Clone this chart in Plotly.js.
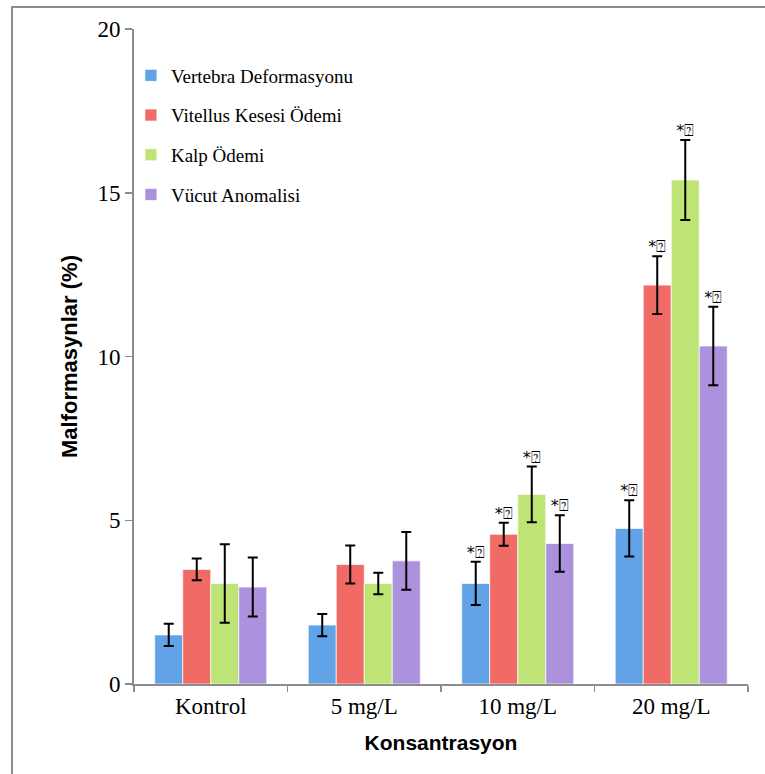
<!DOCTYPE html>
<html>
<head>
<meta charset="utf-8">
<script src="https://cdn.plot.ly/plotly-3.0.1.min.js"></script>
<style>
  html, body { margin: 0; padding: 0; background: #fff; }
  #frame { position: absolute; left: 11px; top: 6px; width: 800px; height: 800px;
           border-left: 2px solid #8c8c8c; border-top: 2px solid #8c8c8c; pointer-events: none; z-index: 2; }
  #chart { position: absolute; left: 0; top: 0; width: 765px; height: 774px; }
</style>
</head>
<body>
<div id="chart"></div>
<div id="frame"></div>
<script>
// ---- data ----
const categories = ['Kontrol', '5 mg/L', '10 mg/L', '20 mg/L'];
const seriesNames = ['Vertebra Deformasyonu', 'Vitellus Kesesi Ödemi', 'Kalp Ödemi', 'Vücut Anomalisi'];

const vertebra      = [1.50, 1.80, 3.07, 4.75];
const vertebraErr   = [0.34, 0.34, 0.66, 0.86];
const vitellus      = [3.50, 3.65, 4.57, 12.18];
const vitellusErr   = [0.33, 0.58, 0.35, 0.88];
const kalp          = [3.07, 3.07, 5.79, 15.39];
const kalpErr       = [1.20, 0.33, 0.85, 1.22];
const vucut         = [2.96, 3.76, 4.29, 10.32];
const vucutErr      = [0.90, 0.88, 0.86, 1.20];

const sigLabels = ['', '', '*⍰', '*⍰'];

const yTicks = [0, 5, 10, 15, 20];

// ---- styles ----
const colors = ['#62a2e6', '#f06a66', '#bde474', '#ac92dc'];
const values = [vertebra, vitellus, kalp, vucut];
const errors = [vertebraErr, vitellusErr, kalpErr, vucutErr];

const traces = [];
values.forEach((vals, i) => {
  traces.push({
    type: 'bar',
    name: seriesNames[i],
    x: categories,
    y: vals,
    offsetgroup: 'g' + i,
    legendgroup: 'g' + i,
    marker: { color: colors[i], line: { color: 'rgba(255,255,255,0.7)', width: 1 } },
    error_y: { type: 'data', array: errors[i], visible: true, color: '#000', thickness: 2, width: 5 },
    hoverinfo: 'skip'
  });
});
values.forEach((vals, i) => {
  traces.push({
    type: 'scatter',
    mode: 'text',
    x: categories,
    y: vals.map((v, k) => v + errors[i][k]),
    text: sigLabels,
    textposition: 'top center',
    textfont: { family: 'DejaVu Sans, Liberation Serif, serif', size: 16, color: '#000' },
    offsetgroup: 'g' + i,
    showlegend: false,
    hoverinfo: 'skip',
    cliponaxis: false
  });
});

const layout = {
  width: 765, height: 774,
  margin: { l: 134, r: 17, t: 29, b: 90 },
  paper_bgcolor: 'rgba(0,0,0,0)',
  plot_bgcolor: 'rgba(0,0,0,0)',
  barmode: 'group',
  bargap: 0.27,
  bargroupgap: 0,
  scattermode: 'group',
  scattergap: 0.27,
  showlegend: true,
  legend: {
    x: -0.005, y: 0.958, xanchor: 'left', yanchor: 'top',
    font: { family: 'Liberation Serif, Times New Roman, serif', size: 19, color: '#000' },
    tracegroupgap: 12,
    bgcolor: 'rgba(0,0,0,0)',
    itemwidth: 30
  },
  xaxis: {
    type: 'category',
    showline: true, linecolor: '#8c8c8c', linewidth: 2,
    ticks: 'outside', tickson: 'boundaries', ticklen: 6, tickcolor: '#8c8c8c', tickwidth: 1.5,
    tickfont: { family: 'Liberation Serif, Times New Roman, serif', size: 23, color: '#000' },
    showgrid: false, zeroline: false,
    title: { text: 'Konsantrasyon', standoff: 18,
             font: { family: 'Liberation Sans, Arial, sans-serif', size: 21, color: '#000', weight: 'bold' } },
    automargin: false
  },
  yaxis: {
    range: [0, 20],
    tickvals: yTicks,
    showline: true, linecolor: '#8c8c8c', linewidth: 2,
    ticks: 'outside', ticklen: 7, tickcolor: '#8c8c8c', tickwidth: 1.5,
    tickfont: { family: 'Liberation Serif, Times New Roman, serif', size: 23, color: '#000' },
    showgrid: false, zeroline: false,
    title: { text: 'Malformasynlar (%)', standoff: 14,
             font: { family: 'Liberation Sans, Arial, sans-serif', size: 22, color: '#000', weight: 'bold' } },
    automargin: false
  }
};

Plotly.newPlot('chart', traces, layout, { displayModeBar: false, staticPlot: true });
</script>
</body>
</html>
